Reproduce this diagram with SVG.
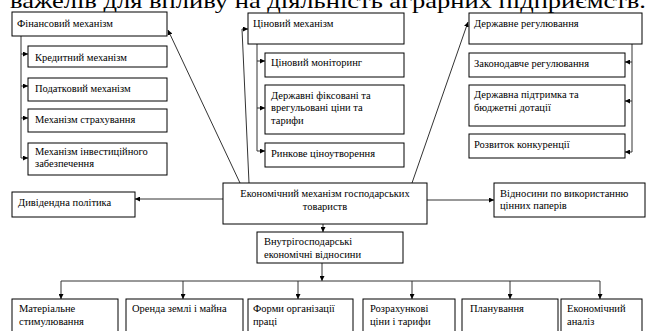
<svg xmlns="http://www.w3.org/2000/svg" width="653" height="331" viewBox="0 0 653 331">
<style>
.b{fill:#fff;stroke:#000;stroke-width:1}
text{font-family:"Liberation Serif","Times New Roman",serif;font-size:10.5px;fill:#000}
.t{font-size:22px}
.c{fill:none;stroke:#333;stroke-width:1}
</style>
<defs>
<marker id="ah" viewBox="0 0 6 6" refX="6" refY="3" markerWidth="5" markerHeight="5" orient="auto" markerUnits="userSpaceOnUse"><path d="M0,0 L6,3 L0,6 z" fill="#000"/></marker>
</defs>
<rect width="653" height="331" fill="#fff"/>
<text class="t" x="10" y="8" textLength="636" lengthAdjust="spacingAndGlyphs">важелів для впливу на діяльність аграрних підприємств.</text>

<g id="connectors">
<path class="c" d="M21,36 V158"/>
<path class="c" d="M21,54 H28" marker-end="url(#ah)"/>
<path class="c" d="M21,86 H28" marker-end="url(#ah)"/>
<path class="c" d="M21,118 H28" marker-end="url(#ah)"/>
<path class="c" d="M21,158 H28" marker-end="url(#ah)"/>
<path class="c" d="M257,44 V151"/>
<path class="c" d="M257,61 H265" marker-end="url(#ah)"/>
<path class="c" d="M257,108 H265" marker-end="url(#ah)"/>
<path class="c" d="M257,151 H265" marker-end="url(#ah)"/>
<path class="c" d="M632,44 V152"/>
<path class="c" d="M632,62 H625" marker-end="url(#ah)"/>
<path class="c" d="M632,101 H625" marker-end="url(#ah)"/>
<path class="c" d="M632,152 H625" marker-end="url(#ah)"/>
<path class="c" d="M240,183 L168,30" marker-end="url(#ah)"/>
<path class="c" d="M249,183 L242,29 H248" marker-end="url(#ah)"/>
<path class="c" d="M412,183 L468,22" marker-end="url(#ah)"/>
<path class="c" d="M223,199 H135" marker-end="url(#ah)"/>
<path class="c" d="M427,200 H494" marker-end="url(#ah)"/>
<path class="c" d="M323,224 V232" marker-end="url(#ah)"/>
<path class="c" d="M322,263 V281" marker-end="url(#ah)"/>
<path class="c" d="M61,281 H600"/>
<path class="c" d="M61,281 V299" marker-end="url(#ah)"/>
<path class="c" d="M183,281 V299" marker-end="url(#ah)"/>
<path class="c" d="M298,281 V299" marker-end="url(#ah)"/>
<path class="c" d="M412,281 V299" marker-end="url(#ah)"/>
<path class="c" d="M510,281 V299" marker-end="url(#ah)"/>
<path class="c" d="M600,281 V299" marker-end="url(#ah)"/>
</g>

<g id="fin"><rect class="b" x="12" y="12" width="155" height="24"/><text x="17" y="27">Фінансовий механізм</text></g>
<g id="fin1"><rect class="b" x="28" y="46" width="139" height="21"/><text x="35" y="61">Кредитний механізм</text></g>
<g id="fin2"><rect class="b" x="28" y="78" width="139" height="23"/><text x="35" y="92">Податковий механізм</text></g>
<g id="fin3"><rect class="b" x="28" y="109" width="139" height="23"/><text x="35" y="123">Механізм страхування</text></g>
<g id="fin4"><rect class="b" x="28" y="143" width="139" height="32"/><text x="35" y="155">Механізм інвестиційного</text><text x="35" y="167">забезпечення</text></g>

<g id="price"><rect class="b" x="248" y="13" width="156" height="31"/><text x="253" y="27">Ціновий механізм</text></g>
<g id="price1"><rect class="b" x="265" y="53" width="139" height="24"/><text x="271" y="66">Ціновий моніторинг</text></g>
<g id="price2"><rect class="b" x="265" y="85" width="139" height="49"/><text x="271" y="99">Державні фіксовані та</text><text x="271" y="111">врегульовані ціни та</text><text x="271" y="124">тарифи</text></g>
<g id="price3"><rect class="b" x="265" y="143" width="139" height="24"/><text x="271" y="157">Ринкове ціноутворення</text></g>

<g id="state"><rect class="b" x="469" y="13" width="173" height="31"/><text x="474" y="27">Державне регулювання</text></g>
<g id="state1"><rect class="b" x="469" y="53" width="156" height="24"/><text x="474" y="67">Законодавче регулювання</text></g>
<g id="state2"><rect class="b" x="469" y="85" width="156" height="41"/><text x="474" y="98">Державна підтримка та</text><text x="474" y="111">бюджетні дотації</text></g>
<g id="state3"><rect class="b" x="469" y="134" width="156" height="24"/><text x="474" y="148">Розвиток конкуренції</text></g>

<g id="econ"><rect class="b" x="223" y="183" width="204" height="41"/><text x="325" y="197" text-anchor="middle">Економічний механізм господарських</text><text x="325" y="210" text-anchor="middle">товариств</text></g>
<g id="div"><rect class="b" x="12" y="192" width="123" height="25"/><text x="18" y="206">Дивідендна політика</text></g>
<g id="sec"><rect class="b" x="494" y="183" width="151" height="34"/><text x="500" y="197">Відносини по використанню</text><text x="500" y="209">цінних паперів</text></g>
<g id="intra"><rect class="b" x="257" y="232" width="146" height="31"/><text x="264" y="245">Внутрігосподарські</text><text x="264" y="258">економічні відносини</text></g>

<g id="b1"><rect class="b" x="12" y="299" width="106" height="40"/><text x="19" y="312">Матеріальне</text><text x="19" y="325">стимулювання</text></g>
<g id="b2"><rect class="b" x="126" y="299" width="117" height="40"/><text x="132" y="312">Оренда землі і майна</text></g>
<g id="b3"><rect class="b" x="248" y="299" width="105" height="40"/><text x="253" y="312">Форми організації</text><text x="253" y="325">праці</text></g>
<g id="b4"><rect class="b" x="363" y="299" width="92" height="40"/><text x="370" y="312">Розрахункові</text><text x="370" y="325">ціни і тарифи</text></g>
<g id="b5"><rect class="b" x="462" y="299" width="96" height="40"/><text x="470" y="312">Планування</text></g>
<g id="b6"><rect class="b" x="561" y="299" width="81" height="40"/><text x="567" y="312">Економічний</text><text x="567" y="325">аналіз</text></g>
</svg>
